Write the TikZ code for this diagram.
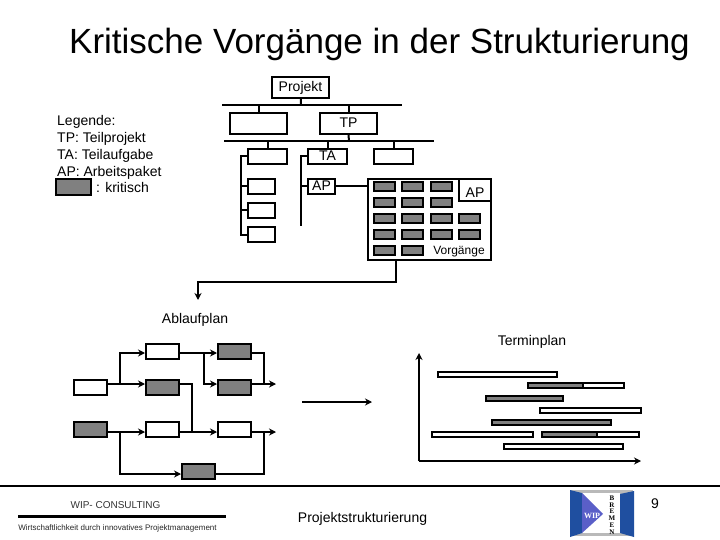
\documentclass[tikz,border=0pt]{standalone}
\usepackage{fontspec}
\setmainfont{Liberation Sans}
\newfontfamily\logofont{Liberation Serif}
\usepackage{tikz}
\usetikzlibrary{positioning,arrows.meta,calc}

\definecolor{critgray}{HTML}{808080}
\definecolor{wipblue}{HTML}{1F4FA0}
\definecolor{wiparrow}{HTML}{5A5FC8}

\begin{document}
\begin{tikzpicture}[
  x=1pt, y=-1pt,
  font=\fontsize{14}{16}\selectfont,
  >={Stealth[length=7pt,width=7pt]},
  pbox/.style={draw=black, fill=white, line width=2pt, inner sep=0pt, text height=10pt, text depth=1pt},
  critbox/.style={pbox, fill=critgray},
  tpbox/.style={pbox, minimum width=57pt, minimum height=21pt},
  tabox/.style={pbox, minimum width=39pt, minimum height=15pt},
  apbox/.style={pbox, minimum width=27pt, minimum height=15pt},
  vgbox/.style={critbox, text height=0pt, text depth=0pt, minimum width=21pt, minimum height=9pt},
  planbox/.style={pbox, minimum width=33pt, minimum height=15pt},
  critplan/.style={planbox, fill=critgray},
  barbox/.style={pbox, text height=0pt, text depth=0pt, line width=1.6pt, minimum height=5.4pt},
  critbar/.style={barbox, fill=critgray},
  link/.style={draw=black, line width=2pt},
  linkto/.style={link, ->}
]
  \useasboundingbox (0,0) rectangle (720,540);

  \node[font=\fontsize{35}{39}\selectfont] (title) at (379.5,44) {Kritische Vorgänge in der Strukturierung};

  % legend
  \node[anchor=north west, inner sep=0pt, align=left, font=\fontsize{14}{17}\selectfont] (legend) at (57,115.5) {Legende:\\TP: Teilprojekt\\TA: Teilaufgabe\\AP: Arbeitspaket};
  \node[critbox, minimum width=35pt, minimum height=16pt] (legendbox) at (73.5,187) {};
  \node[right=4pt of legendbox, inner sep=0pt, font=\fontsize{14}{17}\selectfont] (legendtext) {: kritisch};

  % structure tree
  \node[pbox, minimum width=57pt, minimum height=21pt] (projekt) at (300.5,87.5) {Projekt};
  \node[tpbox] (tpa) at (258.5,123.5) {};
  \node[tpbox] (tpb) at (348.5,123.5) {TP};
  \coordinate (busa) at (301,105);
  \coordinate (busaw) at (222,105);
  \coordinate (busae) at (402,105);
  \coordinate (busb) at (349,141);
  \coordinate (busbw) at (224,141);
  \coordinate (busbe) at (434,141);
  \draw[link] (busaw) -- (busae);
  \draw[link] (busbw) -- (busbe);
  \draw[link] (projekt) -- (busa);
  \draw[link] (tpa.north) -- (tpa.north |- busa);
  \draw[link] (tpb.north) -- (tpb.north |- busa);
  \draw[link] (tpb.south) -- (busb);

  \node[tabox] (taa) at (267.5,156.5) {};
  \node[tabox] (tab) at (327.5,156.5) {TA};
  \node[tabox] (tac) at (393.5,156.5) {};
  \foreach \n in {taa,tab,tac}
    \draw[link] (\n.north) -- (\n.north |- busb);

  \node[apbox] (apa) at (261.5,186.5) {};
  \node[apbox] (apb) at (261.5,210.5) {};
  \node[apbox] (apc) at (261.5,234.5) {};
  \node[apbox] (apd) at (321.5,186.5) {AP};
  \coordinate (spinea) at (241,234.5);
  \coordinate (spineb) at (301,226);
  \draw[link] (taa.west) -| (spinea) -- (apc.west);
  \draw[link] (apa.west) -- (apa.west -| spinea);
  \draw[link] (apb.west) -- (apb.west -| spinea);
  \draw[link] (tab.west) -| (spineb);
  \draw[link] (apd.west) -- (apd.west -| spineb);

  % work package with its tasks
  \node[pbox, text height=0pt, text depth=0pt, minimum width=123pt, minimum height=81pt] (apbig) at (429.5,219.5) {};
  \draw[link] (apd.east) -- (apd.east -| apbig.west);
  \node[pbox, text height=16pt, text depth=0pt, anchor=north east, minimum width=32pt, minimum height=22pt] (apinner) at (apbig.north east) {AP};
  \foreach \x/\y/\n in {384/186.5/a1,412.5/186.5/a2,441/186.5/a3,
                        384/202.5/b1,412.5/202.5/b2,441/202.5/b3,
                        384/218.5/c1,412.5/218.5/c2,441/218.5/c3,469.5/218.5/c4,
                        384/234.5/d1,412.5/234.5/d2,441/234.5/d3,469.5/234.5/d4,
                        384/250.5/e1,412.5/250.5/e2}
    \node[vgbox] (vg\n) at (\x,\y) {};
  \node[font=\fontsize{12}{14}\selectfont] (vorgaenge) at (459,251.5) {Vorgänge};

  \coordinate (elbow) at (396,282);
  \coordinate (downtip) at (198,300);
  \draw[linkto] (apbig.south -| elbow) -- (elbow) -| (downtip);

  % Ablaufplan
  \node (ablauf) at (195,319.5) {Ablaufplan};
  \node[planbox] (paa) at (90.5,387.5) {};
  \node[critplan] (pba) at (90.5,429.5) {};
  \node[planbox] (pca) at (162.5,351.5) {};
  \node[critplan] (pcb) at (162.5,387.5) {};
  \node[planbox] (pcc) at (162.5,429.5) {};
  \node[critplan] (pda) at (234.5,351.5) {};
  \node[critplan] (pdb) at (234.5,387.5) {};
  \node[planbox] (pdc) at (234.5,429.5) {};
  \node[critplan] (pma) at (198.5,471.5) {};
  \coordinate (outa) at (276,384);
  \coordinate (outb) at (276,432);
  \coordinate (joina) at (120,384);
  \coordinate (joinb) at (120,432);
  \coordinate (joinc) at (204,353);
  \coordinate (joind) at (264,384);
  \coordinate (joine) at (264,432);
  \coordinate (joinf) at (192,432);
  \draw[linkto] ([yshift=3.5pt]paa.east) -- ([yshift=3.5pt]pcb.west);
  \draw[linkto] (joina) |- ([yshift=-1.5pt]pca.west);
  \draw[linkto] ([yshift=-1.5pt]pca.east) -- ([yshift=-1.5pt]pda.west);
  \draw[linkto] (joinc) |- ([yshift=3.5pt]pdb.west);
  \draw[link] ([yshift=-1.5pt]pda.east) -| (joind);
  \draw[linkto] ([yshift=3.5pt]pdb.east) -- (outa);
  \draw[link] ([yshift=3.5pt]pcb.east) -| (joinf);
  \draw[linkto] ([yshift=-2.5pt]pba.east) -- ([yshift=-2.5pt]pcc.west);
  \draw[linkto] ([yshift=-2.5pt]pcc.east) -- ([yshift=-2.5pt]pdc.west);
  \draw[linkto] ([yshift=-2.5pt]pdc.east) -- (outb);
  \draw[linkto] (joinb) |- ([yshift=-2.5pt]pma.west);
  \draw[link] ([yshift=-2.5pt]pma.east) -| (joine);

  % step from one plan to the other
  \coordinate (stepa) at (302,402);
  \coordinate (stepb) at (372,402);
  \draw[linkto] (stepa) -- (stepb);

  % Terminplan
  \node (termin) at (532,341.5) {Terminplan};
  \coordinate (axo) at (419,461);
  \coordinate (axy) at (419,353);
  \coordinate (axx) at (641,461);
  \draw[linkto] (axo) -- (axy);
  \draw[linkto] (axo) -- (axx);
  \node[barbox, minimum width=119.4pt] (bara) at (497.5,374.5) {};
  \node[barbox, minimum width=96pt] (barb) at (576,385.5) {};
  \node[critbar, anchor=west, minimum width=55pt] (barbc) at (barb.west) {};
  \node[critbar, minimum width=77.4pt] (barc) at (524.5,398.5) {};
  \node[barbox, minimum width=101.4pt] (bard) at (590.5,410.5) {};
  \node[critbar, minimum width=119.4pt] (bare) at (551.5,422.5) {};
  \node[barbox, minimum width=101.4pt] (barf) at (482.5,434.5) {};
  \node[barbox, minimum width=97.4pt] (barg) at (590.5,434.5) {};
  \node[critbar, anchor=west, minimum width=55pt] (bargc) at (barg.west) {};
  \node[barbox, minimum width=119.4pt] (barh) at (563.5,446.5) {};

  % footer
  \coordinate (rulea) at (0,486);
  \coordinate (ruleb) at (720,486);
  \draw[line width=1.2pt] (rulea) -- (ruleb);
  \node[font=\fontsize{10}{12}\selectfont, text=black!80] (wip) at (115.5,505.5) {WIP- CONSULTING};
  \coordinate (thicka) at (18,516);
  \coordinate (thickb) at (226,516);
  \draw[line width=3pt] (thicka) -- (thickb);
  \node[font=\fontsize{8}{9}\selectfont, text=black!85] (motto) at (117.5,528) {Wirtschaftlichkeit durch innovatives Projektmanagement};
  \node (thema) at (362.5,518.5) {Projektstrukturierung};
  \node[font=\fontsize{14}{16}\selectfont] (seite) at (655,504) {9};

  % logo
  \fill[gray!55] (571,490) -- (633,490) -- (633,536) -- (571,536) -- cycle;
  \fill[white] (582,493) -- (620,493) -- (620,533) -- (582,533) -- cycle;
  \fill[wipblue] (570,490) -- (582,493) -- (582,533) -- (570,537) -- cycle;
  \fill[wipblue] (620,494) -- (634,491) -- (634,537) -- (620,533) -- cycle;
  \fill[wiparrow] (582,493) -- (603,514) -- (582,533) -- cycle;
  \node[font=\fontsize{8}{8}\selectfont\logofont\bfseries, text=white, inner sep=0pt] (logowip) at (592,516) {WIP};
  \node[font=\fontsize{7}{6.8}\selectfont\logofont\bfseries, align=center, inner sep=0pt] (logotext) at (612,515) {B\\R\\E\\M\\E\\N};
\end{tikzpicture}
\end{document}
